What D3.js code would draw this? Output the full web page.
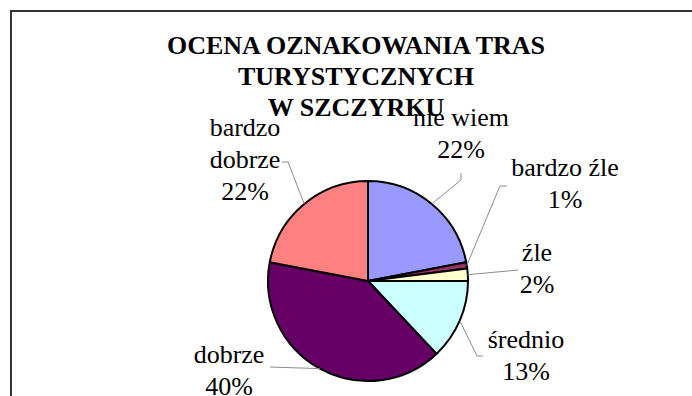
<!DOCTYPE html>
<html>
<head>
<meta charset="utf-8">
<script src="https://cdn.jsdelivr.net/npm/d3@7"></script>
<style>
  html, body { margin: 0; padding: 0; background: #fff; }
  svg { display: block; }
</style>
</head>
<body>
<svg id="chart" width="692" height="396"></svg>
<script>
// Survey answers, clockwise from 12 o'clock
const categories = ["nie wiem", "bardzo źle", "źle", "średnio", "dobrze", "bardzo dobrze"];
const shares = [22, 1, 2, 13, 40, 22];           // percent
const labelLines = [["nie wiem"], ["bardzo źle"], ["źle"], ["średnio"], ["dobrze"], ["bardzo", "dobrze"]];
const titleLines = ["OCENA OZNAKOWANIA TRAS", "TURYSTYCZNYCH", "W SZCZYRKU"];

const palette = ["#9999FF", "#993366", "#FFFFCC", "#CCFFFF", "#660066", "#FF8080"];

const serif = "'Liberation Serif', 'Times New Roman', 'DejaVu Serif', serif";

// Label placement: text anchor (centre x, first baseline) and leader line bend points
const labelLayout = {
  "nie wiem":      { x: 461, y: 126, leader: [[461, 180], [461, 173]] },
  "bardzo źle":    { x: 565, y: 176, leader: [[500, 186], [507, 186]] },
  "źle":           { x: 537, y: 261, leader: [[518, 270]] },
  "średnio":       { x: 526, y: 348, leader: [[477, 356], [483, 356]] },
  "dobrze":        { x: 229, y: 363, leader: [[270, 367]] },
  "bardzo dobrze": { x: 245, y: 136, leader: [[288, 162], [282, 162]] }
};

const svg = d3.select("#chart");
const cx = 368, cy = 281, radius = 100, lineH = 32;

// Frame
svg.append("rect")
  .attr("x", 11).attr("y", 11)
  .attr("width", 720).attr("height", 420)
  .attr("fill", "none")
  .attr("stroke", "#333")
  .attr("stroke-width", 2);

// Title
const title = svg.append("text")
  .attr("text-anchor", "middle")
  .attr("font-family", serif)
  .style("font-family", serif)
  .attr("font-size", 26)
  .attr("font-weight", "bold")
  .attr("fill", "#000");
titleLines.forEach((t, i) => {
  title.append("tspan").attr("x", 356).attr("y", 54 + i * 31).text(t);
});

const color = d3.scaleOrdinal().domain(categories).range(palette);
const pie = d3.pie().sort(null).value(d => d.value);
const arcs = pie(categories.map((c, i) => ({ name: c, value: shares[i] })));
const arc = d3.arc().innerRadius(0).outerRadius(radius);

const g = svg.append("g").attr("transform", `translate(${cx},${cy})`);

g.selectAll("path.slice")
  .data(arcs)
  .join("path")
  .attr("class", "slice")
  .attr("d", arc)
  .attr("fill", d => color(d.data.name))
  .attr("stroke", "#000")
  .attr("stroke-width", 2)
  .attr("stroke-linejoin", "round");

// Leader lines from the middle of each slice's rim
const line = d3.line();
svg.selectAll("path.leader")
  .data(arcs)
  .join("path")
  .attr("class", "leader")
  .attr("fill", "none")
  .attr("stroke", "#8c8c8c")
  .attr("stroke-width", 1)
  .attr("d", d => {
    const mid = (d.startAngle + d.endAngle) / 2;
    const start = [cx + radius * Math.sin(mid), cy - radius * Math.cos(mid)];
    return line([start, ...labelLayout[d.data.name].leader]);
  });

// Category and percentage labels
arcs.forEach((d, i) => {
  const pos = labelLayout[d.data.name];
  const lines = [...labelLines[i], `${Math.round(d.data.value)}%`];
  const t = svg.append("text")
    .attr("text-anchor", "middle")
    .attr("font-family", serif)
    .style("font-family", serif)
    .attr("font-size", 26)
    .attr("fill", "#000");
  lines.forEach((s, k) => {
    t.append("tspan").attr("x", pos.x).attr("y", pos.y + k * lineH).text(s);
  });
});
</script>
</body>
</html>
